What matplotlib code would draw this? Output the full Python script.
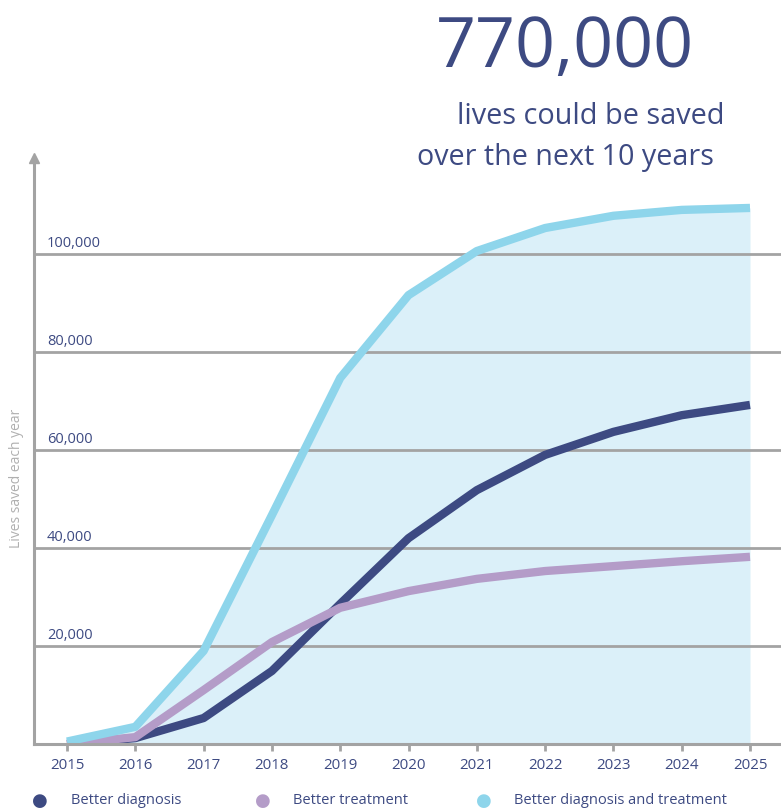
import matplotlib.pyplot as plt

years = [2015, 2016, 2017, 2018, 2019, 2020, 2021, 2022, 2023, 2024, 2025]
diagnosis = [0, 1200, 5300, 14900, 28600, 42000, 51800, 59000, 63700, 67100, 69200]
treatment = [0, 1400, 11000, 20800, 27800, 31200, 33700, 35300, 36300, 37300, 38200]
both = [500, 3500, 19000, 46700, 74700, 91600, 100600, 105300, 107800, 109000, 109400]
yticks = [20000, 40000, 60000, 80000, 100000]
ytick_labels = ["20,000", "40,000", "60,000", "80,000", "100,000"]
series_names = ["Better diagnosis", "Better treatment", "Better diagnosis and treatment"]

navy = "#3d4a82"
purple = "#b49cc8"
sky = "#8ed5eb"
fill_col = "#dbf0f9"
grey = "#a3a3a3"

plt.rcParams["font.family"] = ["Open Sans", "DejaVu Sans"]

W, H = 781, 809
fig = plt.figure(figsize=(W / 100, H / 100), dpi=100)
ax = fig.add_axes([34 / W, (H - 744) / H, (W - 34) / W, (744 - 158) / H])

ax.set_xlim(2015 - 33 / 68.3, 2015 + (W - 67) / 68.3)
ax.set_ylim(0, 586 / 4.9 * 1000)

ax.fill_between(years, both, 0, color=fill_col, lw=0, zorder=1)
for y in yticks:
    ax.axhline(y, color=grey, lw=2, zorder=2)

ax.plot(years, diagnosis, color=navy, lw=6, zorder=3, solid_capstyle="butt")
ax.plot(years, treatment, color=purple, lw=6, zorder=4, solid_capstyle="butt")
ax.plot(years, both, color=sky, lw=6, zorder=5, solid_capstyle="butt")

for sp in ["top", "right"]:
    ax.spines[sp].set_visible(False)
for sp in ["left", "bottom"]:
    ax.spines[sp].set_color(grey)
    ax.spines[sp].set_linewidth(2.2)
    ax.spines[sp].set_zorder(6)

# arrow head on y axis
ax.plot(0, 1, marker="^", color=grey, ms=7, transform=ax.transAxes, clip_on=False)

ax.set_yticks([])
for y, lab in zip(yticks, ytick_labels):
    ax.text(2015 - 20 / 68.3, y + 700, lab, color=navy, fontsize=10.5,
            ha="left", va="bottom", zorder=6)

ax.set_xticks(years)
ax.set_xticklabels([str(y) for y in years], color=navy, fontsize=10.8)
ax.tick_params(axis="x", length=5, width=2, color=grey, pad=5)

fig.text(17 / W, 1 - 478 / H, "Lives saved each year", rotation=90, color="#b0b0b0",
         fontsize=10, ha="center", va="center")

fig.text(565 / W, 1 - 49 / H, "770,000", color=navy, fontsize=50.5, ha="center", va="center")
fig.text(591 / W, 1 - 116 / H, "lives could be saved", color=navy, fontsize=20.8,
         ha="center", va="center")
fig.text(565 / W, 1 - 157 / H, "over the next 10 years", color=navy, fontsize=20.6,
         ha="center", va="center")

for (cx, tx), name, col in zip([(40, 71), (263, 293), (484, 514)], series_names, [navy, purple, sky]):
    fig.text(cx / W, 1 - 801 / H, "\u25cf", color=col, fontsize=13, ha="center", va="center")
    fig.text(tx / W, 1 - 801 / H, name, color=navy, fontsize=10.5, ha="left", va="center")

fig.savefig("out.png", dpi=100)
